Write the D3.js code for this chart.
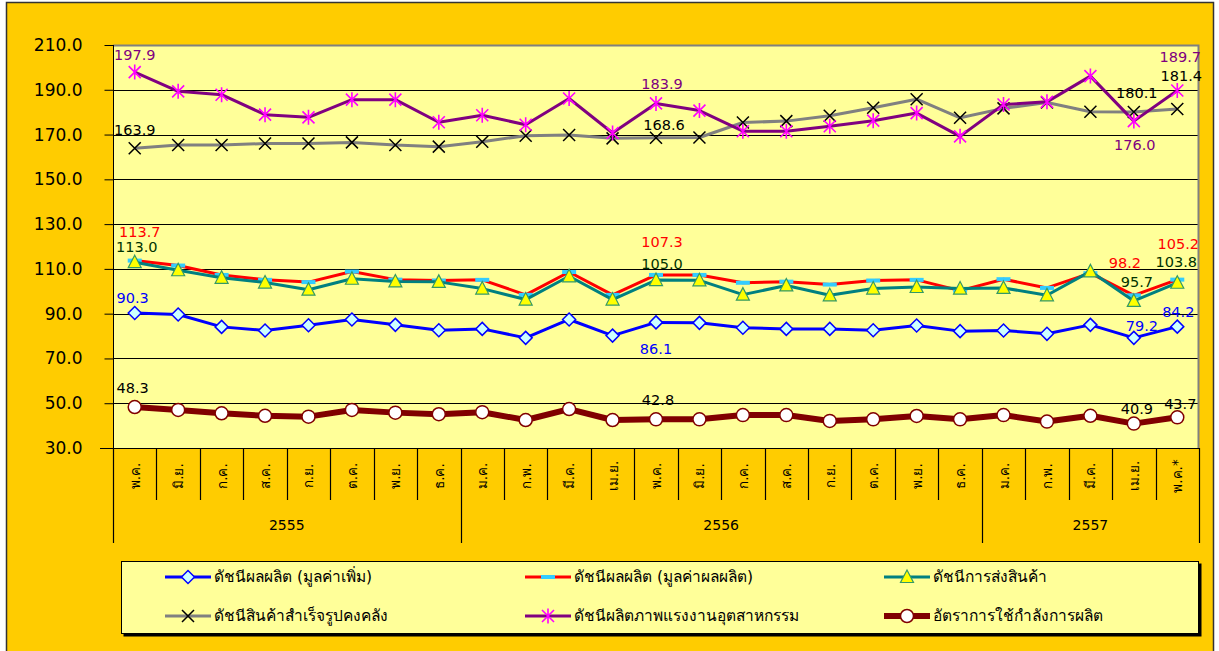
<!DOCTYPE html>
<html>
<head>
<meta charset="utf-8">
<script src="https://cdn.jsdelivr.net/npm/d3@7"></script>
<style>
  body { margin: 0; background: #fff; }
  svg { display: block; font-family: Tahoma, "DejaVu Sans", "Noto Sans", sans-serif; }
</style>
</head>
<body>
<div id="chart"></div>
<script>
// months, grouped by Thai year
var months = ['พ.ค.','มิ.ย.','ก.ค.','ส.ค.','ก.ย.','ต.ค.','พ.ย.','ธ.ค.',
              'ม.ค.','ก.พ.','มี.ค.','เม.ย.','พ.ค.','มิ.ย.','ก.ค.','ส.ค.','ก.ย.','ต.ค.','พ.ย.','ธ.ค.',
              'ม.ค.','ก.พ.','มี.ค.','เม.ย.','พ.ค.*'];
var years = ['2555','2556','2557'];
var yearCounts = [8, 12, 5];
var yTicks = [30, 50, 70, 90, 110, 130, 150, 170, 190, 210];

var valueAdded   = [90.3, 89.6, 84.1, 82.5, 84.8, 87.4, 85.0, 82.6, 83.2, 79.2, 87.4, 80.2, 86.1, 85.9, 83.7, 83.2, 83.2, 82.6, 84.7, 82.2, 82.5, 81.0, 85.0, 79.2, 84.2];
var outputValue  = [113.7, 111.5, 107.3, 105.1, 104.1, 108.8, 105.2, 104.8, 105.1, 98.4, 108.6, 98.4, 107.3, 107.3, 103.8, 104.3, 103.0, 104.8, 105.1, 100.3, 105.4, 101.5, 108.1, 98.2, 105.2];
var shipments    = [113.0, 109.4, 106.0, 103.9, 100.7, 105.6, 104.4, 104.2, 101.2, 96.3, 106.7, 96.3, 105.0, 104.9, 98.5, 102.6, 98.2, 101.2, 101.9, 101.2, 101.5, 98.2, 108.9, 95.7, 103.8];
var inventory    = [163.9, 165.3, 165.3, 166.0, 166.0, 166.5, 165.3, 164.6, 166.8, 169.5, 169.8, 168.3, 168.6, 168.7, 175.4, 176.0, 178.4, 182.0, 185.8, 177.5, 181.7, 184.3, 180.2, 180.1, 181.4];
var productivity = [197.9, 189.3, 187.8, 178.9, 177.7, 185.6, 185.6, 175.5, 178.6, 174.4, 186.1, 170.7, 183.9, 180.7, 171.5, 171.5, 173.7, 176.2, 179.6, 169.2, 183.4, 184.6, 196.1, 176.0, 189.7];
var capacity     = [48.3, 47.0, 45.5, 44.4, 44.0, 47.0, 45.8, 45.1, 46.0, 42.5, 47.4, 42.5, 42.8, 42.8, 44.7, 44.7, 42.1, 42.8, 44.3, 42.8, 44.7, 41.8, 44.4, 40.9, 43.7];

var labelled = [0, 12, 23, 24];

var series = [
  {name: 'ดัชนีผลผลิต (มูลค่าเพิ่ม)', values: valueAdded, line: '#0000FF', width: 3, marker: 'diamond', label: '#0000FF',
   off: [[-2,-10],[0,32],[8,-7],[1,-10]]},
  {name: 'ดัชนีผลผลิต (มูลค่าผลผลิต)', values: outputValue, line: '#FF0000', width: 3, marker: 'dash', label: '#FF0000',
   off: [[5,-24],[6,-28],[-9,-27],[1,-31]]},
  {name: 'ดัชนีการส่งสินค้า', values: shipments, line: '#008080', width: 3, marker: 'triangle', label: '#003300',
   off: [[2,-10],[6,-11],[3,-14],[-1,-16]]},
  {name: 'ดัชนีสินค้าสำเร็จรูปคงคลัง', values: inventory, line: '#808080', width: 3, marker: 'x', label: '#000000',
   off: [[0,-13],[8,-8],[3,-14],[4,-28]]},
  {name: 'ดัชนีผลิตภาพแรงงานอุตสาหกรรม', values: productivity, line: '#800080', width: 3, marker: 'star', label: '#800080',
   off: [[0,-12],[6,-14],[1,29],[3,-28]]},
  {name: 'อัตราการใช้กำลังการผลิต', values: capacity, line: '#800000', width: 6, marker: 'circle', label: '#000000',
   off: [[-2,-14],[2,-14],[3,-10],[3,-8]]}
];

var W = 1219, H = 651;
var svg = d3.select('#chart').append('svg').attr('width', W).attr('height', H);

// outer frame
svg.append('rect').attr('x', 6.5).attr('y', 2.5).attr('width', 1207).attr('height', 660)
  .attr('fill', '#FFCC00').attr('stroke', '#333').attr('stroke-width', 1.5);

var x = d3.scaleBand().domain(d3.range(months.length)).range([113, 1199]);
var y = d3.scaleLinear().domain([30, 210]).range([448, 45]);
var cx = function(i) { return x(i) + x.bandwidth() / 2; };

// plot area
svg.append('rect').attr('x', 113).attr('y', 45).attr('width', 1086).attr('height', 403).attr('fill', '#FFFF99');

svg.append('g').selectAll('line').data(yTicks.slice(1, -1)).enter().append('line')
  .attr('x1', 113).attr('x2', 1199).attr('y1', function(d){ return Math.round(y(d)) + 0.5; })
  .attr('y2', function(d){ return Math.round(y(d)) + 0.5; })
  .attr('stroke', '#000').attr('stroke-width', 1);

svg.append('path').attr('d', 'M113,45.5H1198.5V448').attr('fill', 'none').attr('stroke', '#808080').attr('stroke-width', 2);

// y axis
var yAxis = svg.append('g').attr('transform', 'translate(113.5,0)')
  .call(d3.axisLeft(y).tickValues(yTicks).tickFormat(d3.format('.1f')).tickSize(9).tickPadding(22));
yAxis.selectAll('text').attr('font-size', 17).attr('fill', '#000').attr('font-family', 'Tahoma, "DejaVu Sans", sans-serif');
yAxis.selectAll('line, path').attr('stroke', '#000');
yAxis.select('.domain').attr('d', 'M0,45V448');

// x axis line
svg.append('line').attr('x1', 100).attr('x2', 1199).attr('y1', 448.5).attr('y2', 448.5).attr('stroke', '#000');

// month boundaries and year boundaries
var bounds = d3.range(months.length + 1);
var yearStarts = [0];
yearCounts.forEach(function(c, k){ yearStarts.push(yearStarts[k] + c); });
svg.append('g').selectAll('line').data(bounds).enter().append('line')
  .attr('x1', function(i){ return Math.round(i < months.length ? x(i) : 1199) + 0.5; })
  .attr('x2', function(i){ return Math.round(i < months.length ? x(i) : 1199) + 0.5; })
  .attr('y1', 448).attr('y2', function(i){ return yearStarts.indexOf(i) >= 0 ? 543 : 500; })
  .attr('stroke', '#000').attr('stroke-width', 1.2);

svg.append('g').selectAll('text').data(months).enter().append('text')
  .attr('transform', function(d, i){ return 'translate(' + (cx(i) + 5) + ',476) rotate(-90)'; })
  .attr('text-anchor', 'middle').attr('font-size', 13.5).attr('fill', '#000')
  .text(function(d){ return d; });

svg.append('g').selectAll('text').data(years).enter().append('text')
  .attr('x', function(d, k){
    var a = x(yearStarts[k]), b = yearStarts[k+1] < months.length ? x(yearStarts[k+1]) : 1199;
    return (a + b) / 2; })
  .attr('y', 530).attr('text-anchor', 'middle').attr('font-size', 14).attr('fill', '#000')
  .text(function(d){ return d; });

// markers
function drawMarker(g, type) {
  if (type === 'diamond') {
    g.append('path').attr('d', 'M0,-6.5L6.5,0L0,6.5L-6.5,0Z').attr('fill', '#CCFFFF').attr('stroke', '#0000FF').attr('stroke-width', 1.5);
  } else if (type === 'dash') {
    g.append('rect').attr('x', -7).attr('y', -2).attr('width', 14).attr('height', 4).attr('fill', '#33CCFF');
  } else if (type === 'triangle') {
    g.append('path').attr('d', 'M0,-7L6.5,5.5L-6.5,5.5Z').attr('fill', '#FFFF00').attr('stroke', '#339966').attr('stroke-width', 1.2);
  } else if (type === 'x') {
    g.append('path').attr('d', 'M-6,-6L6,6M-6,6L6,-6').attr('stroke', '#000').attr('stroke-width', 1.5);
  } else if (type === 'star') {
    g.append('path').attr('d', 'M-6,-6L6,6M-6,6L6,-6M0,-7.5V7.5').attr('stroke', '#FF00FF').attr('stroke-width', 1.6);
  } else if (type === 'circle') {
    g.append('circle').attr('r', 6.5).attr('fill', '#fff').attr('stroke', '#800000').attr('stroke-width', 1.5);
  }
}

var line = d3.line().x(function(d, i){ return cx(i); }).y(function(d){ return y(d); });

series.forEach(function(s) {
  var g = svg.append('g');
  g.append('path').datum(s.values).attr('d', line).attr('fill', 'none')
    .attr('stroke', s.line).attr('stroke-width', s.width).attr('stroke-linejoin', 'round');
  s.values.forEach(function(v, i) {
    var m = g.append('g').attr('transform', 'translate(' + cx(i) + ',' + y(v) + ')');
    drawMarker(m, s.marker);
  });
});

// data labels
series.forEach(function(s) {
  svg.append('g').selectAll('text').data(labelled).enter().append('text')
    .attr('x', function(i, k){ return cx(i) + s.off[k][0]; })
    .attr('y', function(i, k){ return y(s.values[i]) + s.off[k][1]; })
    .attr('text-anchor', 'middle').attr('font-size', 14.5).attr('fill', s.label)
    .text(function(i){ return s.values[i].toFixed(1); });
});

// legend
var lg = svg.append('g');
lg.append('rect').attr('x', 123.5).attr('y', 563.5).attr('width', 1078).attr('height', 73).attr('fill', '#000');
lg.append('rect').attr('x', 121.5).attr('y', 561.5).attr('width', 1077).attr('height', 72)
  .attr('fill', '#FFFF99').attr('stroke', '#000').attr('stroke-width', 1);
var legX = [165, 525, 884], legY = [577, 616];
series.forEach(function(s, k) {
  var lx = legX[k % 3], ly = legY[Math.floor(k / 3)];
  var e = lg.append('g').attr('transform', 'translate(' + lx + ',' + ly + ')');
  e.append('line').attr('x1', 0).attr('x2', 46).attr('stroke', s.line).attr('stroke-width', s.width);
  drawMarker(e.append('g').attr('transform', 'translate(23,0)'), s.marker);
  e.append('text').attr('x', 49).attr('y', 5).attr('font-size', 15.5).attr('fill', '#000').text(s.name);
});
</script>
</body>
</html>
